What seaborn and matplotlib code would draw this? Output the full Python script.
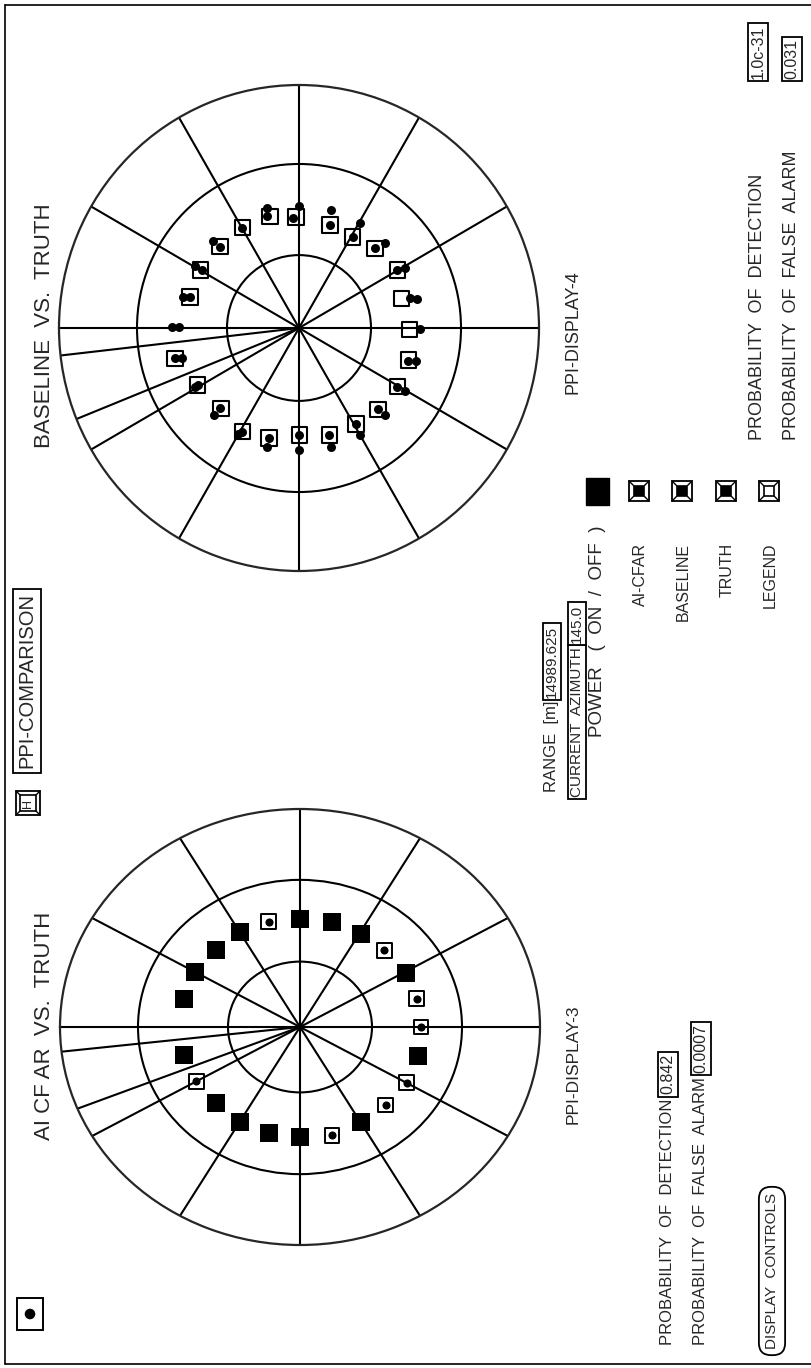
import numpy as np
import matplotlib
matplotlib.use("Agg")
import matplotlib.pyplot as plt
from matplotlib import font_manager
from matplotlib.patches import Rectangle, Circle
import seaborn as sns

sns.set_style("white")
plt.rcParams["font.family"] = ["Liberation Sans", "DejaVu Sans"]

# the panel labels are set in a narrow face when one is installed
installed = {f.name for f in font_manager.fontManager.ttflist}
NARROW = "Liberation Sans Narrow" in installed
LAB_FAM = ["Liberation Sans Narrow", "Liberation Sans"] if NARROW else ["Liberation Sans"]
K = 1.2 if NARROW else 1.0

# PPI grid: spoke azimuths (deg, clockwise from screen-left) and range rings (fraction of full scale)
spoke_az = [0, 30, 60, 90, 120, 150, 180, 210, 240, 270, 300, 330, 338, 353.5]
ring_r = [0.30, 0.675]

# PPI-DISPLAY-3 : AI CFAR vs truth
ai_hit_az = [15, 30, 45, 60, 90, 105.6, 120.7, 150.7, 195, 240, 270, 285, 300, 315, 345]
ai_hit_r = [0.502, 0.507, 0.497, 0.502, 0.497, 0.500, 0.498, 0.507, 0.508, 0.505, 0.505, 0.504, 0.501, 0.496, 0.502]
ai_truth_az = [75, 135, 165, 180, 210, 225, 255, 330]
ai_truth_r = [0.500, 0.497, 0.503, 0.504, 0.513, 0.506, 0.515, 0.499]

# PPI-DISPLAY-4 : baseline vs truth
base_az = [15.8, 30.2, 45.5, 60.3, 75.2, 88.4, 107, 120.8, 134, 149.8, 164.1, 180.7,
           196.1, 210.5, 225.4, 239, 254, 269.8, 285.3, 298.8, 314.6, 331, 346.4]
base_r = [0.472, 0.474, 0.469, 0.476, 0.474, 0.456, 0.443, 0.437, 0.456, 0.474, 0.445, 0.460,
          0.474, 0.476, 0.470, 0.461, 0.458, 0.440, 0.470, 0.487, 0.464, 0.484, 0.531]
det_dot_az = [0.3, 15.8, 30.5, 45.3, 59.8, 74, 87, 107, 120.8, 134, 149.8, 165.2,
              196.5, 210.5, 225.4, 239, 254, 270, 285.3, 299.2, 314.7, 331, 346.4]
det_dot_r = [0.530, 0.472, 0.470, 0.468, 0.475, 0.480, 0.452, 0.443, 0.437, 0.456, 0.474, 0.478,
             0.475, 0.476, 0.470, 0.461, 0.458, 0.440, 0.470, 0.489, 0.466, 0.480, 0.531]
truth_az = [0.3, 15, 30.5, 45.1, 75, 90, 105.2, 120.5, 135.6, 150.7, 166.3, 180.6,
            195.4, 210.3, 225, 240, 254.9, 270, 285.1, 300.1, 314.7, 330.9, 345.7]
truth_r = [0.499, 0.499, 0.503, 0.506, 0.510, 0.502, 0.503, 0.500, 0.502, 0.507, 0.505, 0.504,
           0.506, 0.512, 0.506, 0.508, 0.506, 0.502, 0.506, 0.504, 0.5035, 0.496, 0.504]

# readouts
stat_labels = ["PROBABILITY  OF  DETECTION", "PROBABILITY  OF  FALSE  ALARM"]
ai_stats = ["0.842", "0.0007"]
base_stats = ["1.0c-31", "0.031"]
range_m = "14989.625"
current_az = "145.0"
legend_items = ["AI-CFAR", "BASELINE", "TRUTH", "LEGEND"]
legend_fill = ["black", "black", "black", "white"]

W, H = 812, 1368
fig = plt.figure(figsize=(W / 100, H / 100), dpi=100)
bg = fig.add_axes([0, 0, 1, 1])
bg.set_xlim(0, W)
bg.set_ylim(H, 0)
bg.axis("off")


def ppi(cx, cy, rx, ry):
    ax = fig.add_axes([(cx - rx) / W, (H - cy - ry) / H, 2 * rx / W, 2 * ry / H],
                      projection="polar")
    ax.set_aspect("auto")
    ax.set_facecolor("none")
    ax.set_theta_zero_location("W")
    ax.set_theta_direction(-1)
    ax.set_thetagrids(spoke_az, labels=[""] * len(spoke_az))
    ax.set_rgrids(ring_r, labels=[""] * len(ring_r))
    ax.grid(True, color="black", lw=1.5)
    ax.spines["polar"].set_linewidth(1.6)
    ax.set_axisbelow(True)
    return ax


ax3 = ppi(300, 1027, 240, 218)
sns.scatterplot(x=np.deg2rad(ai_hit_az), y=ai_hit_r, ax=ax3, marker="s", s=150,
                color="black", edgecolor="black", linewidth=0, legend=False, zorder=3)
sns.scatterplot(x=np.deg2rad(ai_truth_az), y=ai_truth_r, ax=ax3, marker="s", s=115,
                color="black", facecolor="none", edgecolor="black", linewidth=1.4,
                legend=False, zorder=3)
sns.scatterplot(x=np.deg2rad(ai_truth_az), y=ai_truth_r, ax=ax3, marker="o", s=34,
                color="black", edgecolor="black", linewidth=0, legend=False, zorder=4)
ax3.set_ylim(0, 1)

ax4 = ppi(299, 328, 240, 243)
sns.scatterplot(x=np.deg2rad(base_az), y=base_r, ax=ax4, marker="s", s=125,
                color="black", facecolor="none", edgecolor="black", linewidth=1.5,
                legend=False, zorder=3)
sns.scatterplot(x=np.deg2rad(det_dot_az), y=det_dot_r, ax=ax4, marker="o", s=42,
                color="black", edgecolor="black", linewidth=0, legend=False, zorder=4)
sns.scatterplot(x=np.deg2rad(truth_az), y=truth_r, ax=ax4, marker="o", s=42,
                color="black", edgecolor="black", linewidth=0, legend=False, zorder=4)
ax4.set_ylim(0, 1)
for a in (ax3, ax4):
    a.set_xlabel("")
    a.set_ylabel("")

# frame
bg.plot([5, 5], [5, 1364], color="black", lw=1.2)
bg.plot([5, W], [5, 5], color="black", lw=1.2)
bg.plot([5, W], [1364, 1364], color="black", lw=1.2)

BOX = dict(boxstyle="square,pad=0.15", fc="white", ec="black", lw=1.3)


def vtext(x, y, s, ha="center", va="center", fs=12, fam=None, **kw):
    return bg.text(x, y, s, rotation=90, ha=ha, va=va, fontsize=fs,
                   family=fam or LAB_FAM, **kw)


def boxed_after(label, s, gap=4, fs=11.5):
    return bg.annotate(s, xy=(0.5, 1), xycoords=label, xytext=(0, gap),
                       textcoords="offset points", rotation=90, ha="center", va="bottom",
                       fontsize=fs, family=LAB_FAM, bbox=BOX)


def bevel(cx, cy, size, fill, inner=0.27):
    h = size / 2
    i = size * inner
    bg.add_patch(Rectangle((cx - h, cy - h), size, size, fill=False, ec="black", lw=1.3))
    bg.add_patch(Rectangle((cx - i, cy - i), 2 * i, 2 * i, fc=fill, ec="black", lw=1.2))
    for sx in (-1, 1):
        for sy in (-1, 1):
            bg.plot([cx + sx * h, cx + sx * i], [cy + sy * h, cy + sy * i], color="black", lw=1)


REG = ["Liberation Sans", "DejaVu Sans"]

# titles
vtext(45, 1026, "AI CF AR  VS.  TRUTH", fs=16, fam=REG)
vtext(45, 326, "BASELINE  VS.  TRUTH", fs=16, fam=REG)
vtext(27, 681, "PPI-COMPARISON", fs=14.5, fam=REG,
      bbox=dict(boxstyle="square,pad=0.2", fc="white", ec="black", lw=1.3))
bevel(28, 803, 24, "white", inner=0.33)
vtext(28, 803, "H", fs=9, fam=REG)
bg.add_patch(Rectangle((17, 1298), 26, 32, fill=False, ec="black", lw=1.4))
bg.add_patch(Circle((30, 1314), 6, fc="black"))

vtext(573, 332, "PPI-DISPLAY-4", fs=13 * K)
vtext(573, 1064, "PPI-DISPLAY-3", fs=12.5 * K)

# centre controls
rng = vtext(552, 792, "RANGE  [m]", va="bottom", fs=12 * K)
boxed_after(rng, range_m, gap=2, fs=11 * K)
caz = vtext(577, 797, "CURRENT  AZIMUTH", va="bottom", fs=11 * K, bbox=BOX)
boxed_after(caz, current_az, gap=3.3 * K, fs=11 * K)
vtext(598, 737, "POWER   (  ON  /  OFF  )", va="bottom", fs=13.5 * K)
bg.add_patch(Rectangle((586, 478), 23, 27, fc="black", ec="black"))
for x, name, fill in zip([640, 683, 727, 770], legend_items, legend_fill):
    vtext(x, 543, name, va="top", fs=11.5 * K)
    bevel(x - 1, 491, 20, fill)

# probability readouts
for x, lab, val in zip([758, 792], stat_labels, base_stats):
    vtext(x, 440, lab, va="bottom", fs=13 * K)
    vtext(x, 79, val, va="bottom", fs=11.5 * K, bbox=BOX)
for x, lab, val in zip([668, 701], stat_labels, ai_stats):
    t = vtext(x, 1345, lab, va="bottom", fs=12 * K)
    boxed_after(t, val, gap=3, fs=11.5 * K)

vtext(772, 1271, "DISPLAY  CONTROLS", fs=11 * K,
      bbox=dict(boxstyle="round,pad=0.4,rounding_size=0.8", fc="white", ec="black", lw=1.3))

fig.savefig("out.png", dpi=100)
